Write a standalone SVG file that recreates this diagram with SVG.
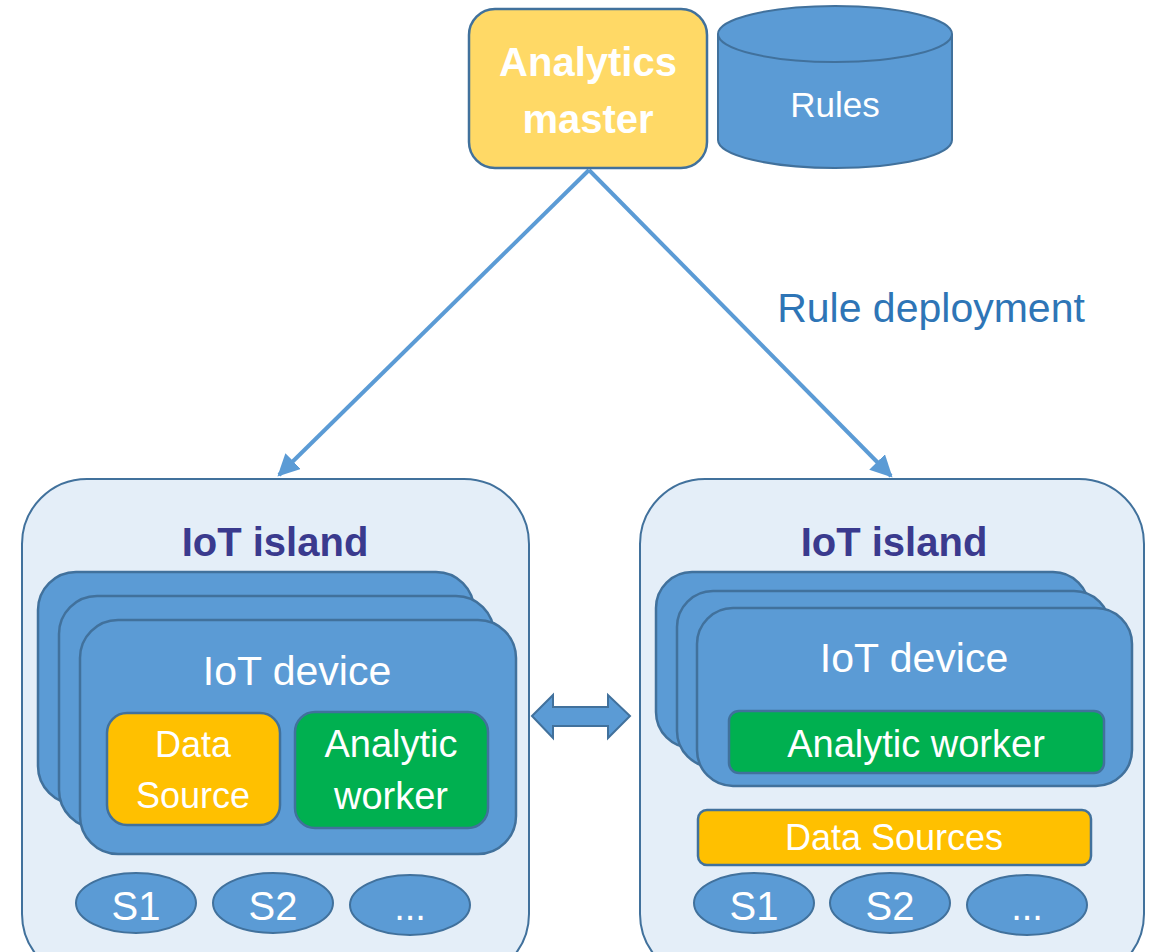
<svg xmlns="http://www.w3.org/2000/svg" width="1155" height="952" viewBox="0 0 1155 952">
  <style>
    .island { fill: #E4EEF8; stroke: #41719C; stroke-width: 2; }
    .device { fill: #5B9BD5; stroke: #41719C; stroke-width: 2.5; }
    .src { fill: #FFC000; stroke: #41719C; stroke-width: 2.5; }
    .worker { fill: #00B050; stroke: #41719C; stroke-width: 2.5; }
    .sensor { fill: #5B9BD5; stroke: #41719C; stroke-width: 2; }
    .wt { font-family: "Liberation Sans", Arial, sans-serif; fill: #FFFFFF; text-anchor: middle; }
    .title { font-family: "Liberation Sans", Arial, sans-serif; font-weight: bold; font-size: 40px; fill: #3A3A8E; text-anchor: middle; }
    .link { stroke: #5B9BD5; stroke-width: 4; fill: none; }
  </style>
  <defs>
    <marker id="head" viewBox="0 0 10 10" refX="9" refY="5" markerWidth="5.5" markerHeight="5.5" orient="auto" markerUnits="strokeWidth">
      <path d="M0,0 L10,5 L0,10 z" fill="#5B9BD5"/>
    </marker>
  </defs>

  <!-- connectors -->
  <g id="connectors">
    <line class="link" x1="589" y1="170" x2="279" y2="475" marker-end="url(#head)"/>
    <line class="link" x1="589" y1="170" x2="891" y2="476" marker-end="url(#head)"/>
    <path d="M532,716 L553,695 L553,707 L608,707 L608,695 L630,716 L608,738 L608,726 L553,726 L553,738 Z" fill="#5B9BD5" stroke="#41719C" stroke-width="2"/>
  </g>
  <text x="931" y="322" font-family="Liberation Sans, Arial, sans-serif" font-size="41" fill="#2E75B6" text-anchor="middle">Rule deployment</text>

  <!-- analytics master -->
  <g id="master">
    <rect x="469" y="9" width="238" height="159" rx="26" fill="#FFD966" stroke="#41719C" stroke-width="2.5"/>
    <text class="wt" x="588" y="76" font-size="40" font-weight="bold">Analytics</text>
    <text class="wt" x="588" y="133" font-size="40" font-weight="bold">master</text>
  </g>

  <!-- rules store -->
  <g id="rules">
    <path d="M718,34 L718,140 A117,28 0 0 0 952,140 L952,34" fill="#5B9BD5" stroke="#41719C" stroke-width="2"/>
    <ellipse cx="835" cy="34" rx="117" ry="28" fill="#5B9BD5" stroke="#41719C" stroke-width="2"/>
    <text class="wt" x="835" y="117" font-size="35">Rules</text>
  </g>

  <!-- left island -->
  <g id="island-left">
    <rect class="island" x="22" y="479" width="507" height="500" rx="65"/>
    <text class="title" x="275" y="556">IoT island</text>
    <rect class="device" x="38" y="572" width="436" height="232" rx="38"/>
    <rect class="device" x="59" y="596" width="435" height="232" rx="38"/>
    <rect class="device" x="80" y="620" width="436" height="234" rx="38"/>
    <text class="wt" x="297" y="685" font-size="41">IoT device</text>
    <g id="data-source-left">
      <rect class="src" x="107" y="713" width="173" height="112" rx="20"/>
      <text class="wt" x="193" y="757" font-size="36">Data</text>
      <text class="wt" x="193" y="808" font-size="36">Source</text>
    </g>
    <g id="worker-left">
      <rect class="worker" x="295" y="712" width="193" height="116" rx="20"/>
      <text class="wt" x="391" y="757" font-size="38">Analytic</text>
      <text class="wt" x="391" y="809" font-size="38">worker</text>
    </g>
    <g id="sensors-left">
      <ellipse class="sensor" cx="136" cy="903" rx="60" ry="30"/>
      <ellipse class="sensor" cx="273" cy="903" rx="60" ry="30"/>
      <ellipse class="sensor" cx="410" cy="905" rx="60" ry="30"/>
      <text class="wt" x="136" y="920" font-size="40">S1</text>
      <text class="wt" x="273" y="920" font-size="40">S2</text>
      <text class="wt" x="410" y="920" font-size="38">...</text>
    </g>
  </g>

  <!-- right island -->
  <g id="island-right">
    <rect class="island" x="640" y="479" width="504" height="500" rx="65"/>
    <text class="title" x="894" y="556">IoT island</text>
    <rect class="device" x="656" y="572" width="433" height="176" rx="36"/>
    <rect class="device" x="677" y="591" width="433" height="176" rx="36"/>
    <rect class="device" x="697" y="608" width="435" height="178" rx="36"/>
    <text class="wt" x="914" y="672" font-size="41">IoT device</text>
    <g id="worker-right">
      <rect class="worker" x="729" y="711" width="375" height="62" rx="10"/>
      <text class="wt" x="916" y="757" font-size="38">Analytic worker</text>
    </g>
    <g id="data-sources-right">
      <rect class="src" x="698" y="810" width="393" height="55" rx="9"/>
      <text class="wt" x="894" y="850" font-size="36">Data Sources</text>
    </g>
    <g id="sensors-right">
      <ellipse class="sensor" cx="754" cy="903" rx="60" ry="30"/>
      <ellipse class="sensor" cx="890" cy="903" rx="60" ry="30"/>
      <ellipse class="sensor" cx="1027" cy="905" rx="60" ry="30"/>
      <text class="wt" x="754" y="920" font-size="40">S1</text>
      <text class="wt" x="890" y="920" font-size="40">S2</text>
      <text class="wt" x="1027" y="920" font-size="38">...</text>
    </g>
  </g>
</svg>
